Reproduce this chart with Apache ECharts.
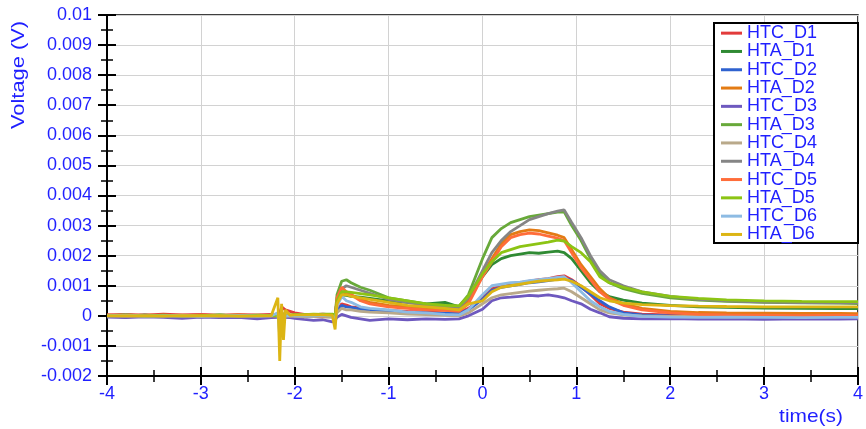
<!DOCTYPE html>
<html>
<head>
<meta charset="utf-8">
<script src="https://cdn.jsdelivr.net/npm/echarts@6/dist/echarts.min.js"></script>
<style>html,body{margin:0;padding:0;background:#fff}#c{width:866px;height:429px}</style>
</head>
<body>
<div id="c"></div>
<script>
const time = [-4,-3.8,-3.6,-3.4,-3.2,-3,-2.8,-2.6,-2.4,-2.25,-2.18,-2.16,-2.14,-2.12,-2.1,-2.05,-2,-1.9,-1.8,-1.7,-1.6,-1.57,-1.55,-1.5,-1.45,-1.4,-1.3,-1.2,-1,-0.8,-0.6,-0.4,-0.25,-0.15,0,0.1,0.2,0.3,0.4,0.5,0.6,0.7,0.8,0.87,0.95,1.05,1.15,1.25,1.35,1.5,1.7,2,2.3,2.6,3,3.4,3.8,4];

const HTC_D1 = [0.00003,0.00005,0.00002,0.00006,0.00003,0.00005,0.00002,0.00004,0.00003,0.00005,
 0.00002,0.0001,0.0003,0.00025,0.0002,0.00015,0.0001,
 0.00005,0.00004,0.00006,0.00003,
 0.00002,0.0002,0.0004,0.00036,0.0003,
 0.00026,0.00022,0.00018,0.00015,0.00013,0.0001,0.0001,0.00025,
 0.0006,0.0009,0.001,0.00106,0.0011,0.00115,0.0012,0.00124,0.0013,0.00133,0.0012,
 0.00098,0.0007,0.0004,0.00025,0.00012,0.00006,0.00003,0.00004,0.00002,0.00003,0.00001,0.00002,0.00001];
const HTA_D1 = [0,-0.00004,0.00002,-0.00002,0,-0.00003,0.00001,-0.00002,0,0.00001,
 0,-0.00015,0.0001,0,0.00002,0.00001,0.00002,
 0.00003,0.00004,0.00002,0.00004,
 0,0.0004,0.0007,0.00068,0.00065,
 0.00062,0.00058,0.0005,0.00045,0.0004,0.00045,0.0003,0.0006,
 0.0013,0.0017,0.0019,0.002,0.00205,0.0021,0.00208,0.00212,0.00215,0.0021,0.0019,
 0.0015,0.0011,0.0008,0.00064,0.00052,0.00042,0.00035,0.0003,0.00028,0.00026,0.00025,0.00024,0.00024];
const HTC_D2 = [0.00001,0,0.00002,-0.00001,0.00001,0,0.00002,0,-0.00001,0.00001,
 0,-0.0002,0.0001,-0.00005,0.00002,0,0.00001,
 0,0.00002,0,-0.00002,
 -0.00005,0.00015,0.00035,0.0003,0.00028,
 0.00022,0.0002,0.00015,0.00011,0.0001,0.00008,0.00008,0.0002,
 0.00055,0.00085,0.00095,0.001,0.00105,0.0011,0.00113,0.00117,0.00122,0.00125,0.00118,
 0.00095,0.00072,0.0005,0.0003,0.0001,0.00003,0,0.00001,-0.00001,0,-0.00002,-0.00001,-0.00002];
const HTA_D2 = [0.00002,0,0.00003,0.00001,0.00002,0,0.00001,0.00003,0,0.00002,
 0,-0.0001,0.0001,0,0.00002,0.00001,0,
 0.00002,0.00001,0.00003,0.00002,
 0,0.0005,0.0008,0.00075,0.0007,
 0.00055,0.00045,0.00035,0.0003,0.00025,0.0002,0.0002,0.0005,
 0.0014,0.0019,0.0024,0.0027,0.0028,0.00286,0.00283,0.00276,0.00268,0.0026,0.0022,
 0.0017,0.0013,0.0009,0.0006,0.0004,0.00025,0.00015,0.00011,0.0001,0.00009,0.00008,0.00008,0.00007];
const HTC_D3 = [-0.00004,-0.00006,-0.00003,-0.00005,-0.00008,-0.00004,-0.00006,-0.00005,-0.0001,-0.00006,
 -0.00005,-0.0001,0,-0.00004,-0.00005,-0.00006,-0.00008,
 -0.00012,-0.00015,-0.00013,-0.0002,
 -0.00015,-0.00005,0.00005,0,-0.00005,
 -0.0001,-0.00015,-0.0001,-0.00013,-0.0001,-0.00012,-0.0001,0,
 0.00022,0.0005,0.0006,0.00062,0.00065,0.00068,0.00066,0.0007,0.00065,0.0006,0.0005,
 0.0004,0.00022,0.0001,-0.00003,-0.00008,-0.0001,-0.00009,-0.00011,-0.0001,-0.00012,-0.0001,-0.00011,-0.0001];
const HTA_D3 = [0,0.00002,-0.00002,0,0.00001,-0.00001,0.00002,0,0.00001,0,
 0,-0.0001,0.0001,0.00002,0.00001,0.00002,0.00003,
 0.00005,0.00004,0.00006,0.00005,
 0,0.0007,0.00115,0.0012,0.0011,
 0.00095,0.00085,0.0006,0.0005,0.0004,0.00035,0.00032,0.0007,
 0.0019,0.0026,0.0029,0.0031,0.0032,0.0033,0.00335,0.0034,0.00345,0.00346,0.003,
 0.0025,0.0019,0.0014,0.0011,0.0009,0.00075,0.0006,0.00052,0.00048,0.00045,0.00043,0.00042,0.00041];
const HTC_D4 = [0,-0.00002,0,0.00001,-0.00001,0,-0.00002,0,-0.00001,0,
 0,-0.0001,0.00005,0,-0.00001,0,-0.00002,
 -0.00003,-0.00002,-0.00004,-0.00005,
 -0.00005,0.0001,0.00025,0.0002,0.0002,
 0.00015,0.00012,0.0001,0.00006,0.00004,0.00002,0,0.0001,
 0.0004,0.0006,0.0007,0.00074,0.00078,0.00082,0.00085,0.00088,0.0009,0.00092,0.0008,
 0.0006,0.0004,0.0002,0.0001,0.00003,0,-0.00002,-0.00001,-0.00003,-0.00002,-0.00003,-0.00002,-0.00003];
const HTA_D4 = [0.00001,0,0.00002,0,0.00001,0.00002,0,0.00001,0,0.00002,
 0,-0.0001,0.0001,0,0.00002,0.00001,0.00002,
 0.00003,0.00002,0.00004,0.00003,
 0,0.0005,0.0009,0.001,0.00095,
 0.00085,0.00075,0.00055,0.00045,0.00035,0.0003,0.00028,0.0006,
 0.0015,0.0021,0.0025,0.0028,0.003,0.0032,0.0033,0.0034,0.00348,0.00352,0.0031,
 0.0026,0.002,0.0015,0.0012,0.001,0.0008,0.00065,0.00055,0.0005,0.00046,0.00044,0.00043,0.00043];
const HTC_D5 = [0.00002,0.00001,0,0.00002,0.00001,0.00003,0,0.00002,0.00001,0,
 0,-0.0001,0.0001,0.00003,0.00002,0,0.00001,
 0.00002,0.00001,0,0.00002,
 0,0.0006,0.00095,0.0008,0.0007,
 0.0005,0.0004,0.0003,0.00025,0.0002,0.00018,0.00015,0.0004,
 0.0013,0.0018,0.0023,0.0026,0.0027,0.00275,0.00272,0.00265,0.00258,0.0025,0.0021,
 0.0016,0.0012,0.0008,0.00055,0.00035,0.0002,0.0001,0.00005,0.00003,0.00002,0.00001,0.00002,0.00001];
const HTA_D5 = [0.00001,0.00003,0,0.00002,0,0.00001,0.00003,0,0.00002,0.00001,
 0,-0.0001,0.0001,0.00002,0.00003,0.00002,0.00003,
 0.00004,0.00006,0.00005,0.00006,
 0,0.0005,0.0008,0.0008,0.00078,
 0.00074,0.0007,0.0006,0.0005,0.0004,0.00035,0.00033,0.00065,
 0.0014,0.0018,0.0021,0.0022,0.0023,0.00235,0.0024,0.00245,0.00252,0.00248,0.0023,
 0.0021,0.0018,0.0013,0.0011,0.00095,0.0008,0.00065,0.00058,0.00053,0.0005,0.00048,0.00047,0.00047];
const HTC_D6 = [0,0.00002,-0.00001,0,0.00001,-0.00002,0,0.00001,-0.00001,0,
 0.0001,-0.0007,0.0001,-0.0002,0,0.00001,0,
 0.00001,0,0.00002,0,
 -0.0002,0.0003,0.00065,0.0005,0.00045,
 0.0003,0.00025,0.0002,0.00012,0.0001,0.00005,0.00003,0.0002,
 0.0007,0.001,0.00105,0.0011,0.00112,0.00117,0.0012,0.00124,0.00128,0.0013,0.0011,
 0.0008,0.0005,0.0003,0.00015,0.00005,-0.00002,-0.00004,-0.00005,-0.00004,-0.00005,-0.00006,-0.00005,-0.00005];
const HTA_D6 = [0,0.00001,0,-0.00001,0.00001,0,0.00001,-0.00001,0,0.00001,
 0.0006,-0.0015,0.0004,-0.0008,0.0002,0.00002,0.00003,
 0.00003,0.00004,0.00003,0.00002,
 -0.00045,0.0004,0.0007,0.0007,0.00065,
 0.0006,0.00055,0.00045,0.00035,0.0003,0.00025,0.0002,0.0004,
 0.0005,0.0008,0.00095,0.001,0.00105,0.0011,0.00115,0.00118,0.0012,0.00122,0.00115,
 0.001,0.0008,0.0006,0.0005,0.00042,0.00037,0.00034,0.00032,0.00031,0.0003,0.0003,0.0003,0.0003];

const seriesNames = ['HTC_D1','HTA_D1','HTC_D2','HTA_D2','HTC_D3','HTA_D3','HTC_D4','HTA_D4','HTC_D5','HTA_D5','HTC_D6','HTA_D6'];
const seriesValues = [HTC_D1,HTA_D1,HTC_D2,HTA_D2,HTC_D3,HTA_D3,HTC_D4,HTA_D4,HTC_D5,HTA_D5,HTC_D6,HTA_D6];
const colors = ['#e23b3b','#2f8a33','#2f62cf','#e37b14','#6e59bf','#68a93a','#b9a98a','#858585','#ff6d3a','#8cc414','#8dbbe3','#dcb514'];

const BLUE = '#1f1fff';
const FONT = 'Liberation Sans';

const chart = echarts.init(document.getElementById('c'), null, {renderer:'canvas'});

const series = seriesNames.map((n,i)=>({
  name:n, type:'line', xAxisIndex:0, yAxisIndex:0,
  showSymbol:false, symbol:'none', animation:false,
  lineStyle:{width:2.8, color:colors[i]},
  itemStyle:{color:colors[i]},
  data: time.map((t,k)=>[t, seriesValues[i][k]])
}));

const tickStyle = {color:'#000', width:2};
const minorStyle = {color:'#000', width:1.5};

chart.setOption({
  animation:false,
  grid:{left:107, right:7, top:15, bottom:53, show:true, borderColor:'#000', borderWidth:1.5, backgroundColor:'transparent'},
  xAxis:[{
    type:'value', min:-4, max:4, interval:1, position:'bottom',
    axisLine:{show:true, onZero:false, lineStyle:{color:'#000', width:2}},
    axisTick:{show:true, inside:false, length:9, lineStyle:tickStyle},
    minorTick:{show:true, splitNumber:2, length:6, lineStyle:minorStyle},
    splitLine:{show:true, lineStyle:{color:'#d2d2d2', width:1}},
    axisLabel:{color:BLUE, fontSize:18, fontFamily:FONT, margin:9}
  },{
    type:'value', min:-4, max:4, interval:1, position:'bottom',
    axisLine:{show:false, onZero:false},
    axisTick:{show:true, inside:true, length:9, lineStyle:tickStyle},
    minorTick:{show:true, splitNumber:2, length:6, lineStyle:minorStyle},
    splitLine:{show:false}, axisLabel:{show:false}
  }],
  yAxis:[{
    type:'value', min:-0.002, max:0.01, interval:0.001, position:'left',
    axisLine:{show:true, onZero:false, lineStyle:{color:'#000', width:2}},
    axisTick:{show:true, inside:false, length:9, lineStyle:tickStyle},
    minorTick:{show:true, splitNumber:2, length:6, lineStyle:minorStyle},
    splitLine:{show:true, lineStyle:{color:'#d2d2d2', width:1}},
    axisLabel:{color:BLUE, fontSize:18, fontFamily:FONT, margin:15,
      formatter:v=>String(+v.toFixed(3))}
  },{
    type:'value', min:-0.002, max:0.01, interval:0.001, position:'left',
    axisLine:{show:false, onZero:false},
    axisTick:{show:true, inside:true, length:9, lineStyle:tickStyle},
    minorTick:{show:true, splitNumber:2, length:6, lineStyle:minorStyle},
    splitLine:{show:false}, axisLabel:{show:false}
  }],
  legend:{
    data:seriesNames, orient:'vertical', left:721, top:24, padding:0, itemGap:0,
    itemWidth:21, itemHeight:3, icon:'rect', z:20,
    selectedMode:false,
    textStyle:{color:BLUE, fontSize:18, fontFamily:FONT, lineHeight:18.3}
  },
  graphic:[
    {type:'rect', z:10, shape:{x:714, y:23, width:144, height:220},
     style:{fill:'#fff', stroke:'#000', lineWidth:2}},
    {type:'text', x:19, y:75, rotation:Math.PI/2, scaleX:1.15, z:10,
     style:{text:'Voltage (V)', fill:BLUE, font:'19px "Liberation Sans"', textAlign:'center', textVerticalAlign:'middle'}},
    {type:'text', x:811, y:417, scaleX:1.1, z:10,
     style:{text:'time(s)', fill:BLUE, font:'19px "Liberation Sans"', textAlign:'center', textVerticalAlign:'middle'}}
  ],
  series:series
});
</script>
</body>
</html>
